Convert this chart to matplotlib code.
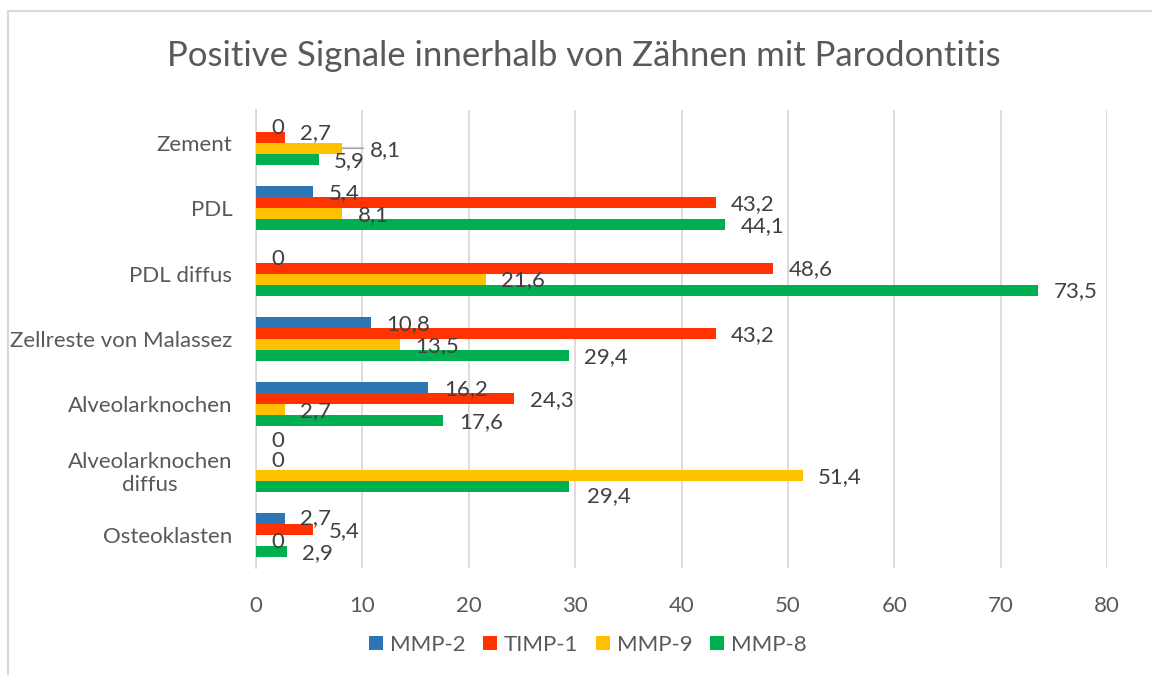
import numpy as np
import matplotlib.pyplot as plt
from matplotlib.patches import Rectangle

plt.rcParams['font.family'] = ['Lato', 'DejaVu Sans']

categories = ["Zement", "PDL", "PDL diffus", "Zellreste von Malassez",
              "Alveolarknochen", "Alveolarknochen\ndiffus", "Osteoklasten"]
series = ["MMP-2", "TIMP-1", "MMP-9", "MMP-8"]
mmp2 = [0, 5.4, 0, 10.8, 16.2, 0, 2.7]
timp1 = [2.7, 43.2, 48.6, 43.2, 24.3, 0, 5.4]
mmp9 = [8.1, 8.1, 21.6, 13.5, 2.7, 51.4, 0]
mmp8 = [5.9, 44.1, 73.5, 29.4, 17.6, 29.4, 2.9]
x_ticks = [0, 10, 20, 30, 40, 50, 60, 70, 80]

colors = ["#2e75b6", "#ff3300", "#ffc000", "#00b050"]
text_col = "#595959"
grid_col = "#d9d9d9"

# hand-moved data labels: (category, series) -> (px right of bar end, px down)
nudges = {(0, 1): (15, -4), (0, 2): (28, 2), (5, 0): (15, -12),
          (5, 1): (15, -3), (5, 3): (18, 10), (6, 0): (15, -1)}

fig = plt.figure(figsize=(11.52, 6.75), dpi=100)
ax = fig.add_axes([256 / 1152, 1 - 568 / 675, (1107 - 256) / 1152, (568 - 110) / 675])

# light frame around the whole chart
fig.add_artist(Rectangle((8 / 1152, -0.1), 1.2, 1 - 11 / 675 + 0.1,
                         transform=fig.transFigure, fill=False,
                         edgecolor=grid_col, lw=1.5))

y = np.arange(len(categories))
h = 11 / 65.5
data = [mmp2, timp1, mmp9, mmp8]
for s, vals in enumerate(data):
    ax.barh(y + (s - 1.5) * h, vals, height=h, color=colors[s],
            label=series[s], zorder=3)
    for i, v in enumerate(vals):
        dx, dy = nudges.get((i, s), (15.5, 1.5))
        yy = y[i] + (s - 1.5) * h
        ax.annotate(f"{v:g}".replace(".", ","), xy=(v, yy),
                    xytext=(dx, -dy), textcoords="offset pixels",
                    ha="left", va="center", fontsize=16, color="#404040",
                    zorder=4)
        if (i, s) == (0, 2):
            # leader line to the shifted label
            ax.annotate("", xy=(v, yy), xytext=(dx - 7, 0),
                        textcoords="offset pixels",
                        arrowprops=dict(arrowstyle="-", color="#a6a6a6", lw=1.2,
                                        shrinkA=0, shrinkB=0))

ax.set_xlim(0, 80)
ax.set_ylim(len(categories) - 0.5, -0.5)
ax.set_xticks(x_ticks)
ax.set_yticks(y)
ax.set_yticklabels(categories, multialignment="center")
ax.tick_params(axis="x", length=0, pad=20, labelsize=16, labelcolor=text_col)
ax.tick_params(axis="y", length=0, pad=17, labelsize=16, labelcolor=text_col)
ax.grid(axis="x", color=grid_col, lw=1.3, zorder=0)
ax.set_axisbelow(True)
for side in ["top", "right", "bottom"]:
    ax.spines[side].set_visible(False)
ax.spines["left"].set_color(grid_col)
ax.spines["left"].set_linewidth(1.3)

fig.text(584 / 1152, 1 - 56 / 675, "Positive Signale innerhalb von Zähnen mit Parodontitis",
         ha="center", va="center", fontsize=25, color=text_col)

fig.legend(loc="center", bbox_to_anchor=(588 / 1152, 1 - 645 / 675), ncol=4,
           frameon=False, fontsize=16, labelcolor=text_col,
           handlelength=0.63, handleheight=0.63, handletextpad=0.3,
           columnspacing=0.8)

fig.savefig("out.png", dpi=100)
